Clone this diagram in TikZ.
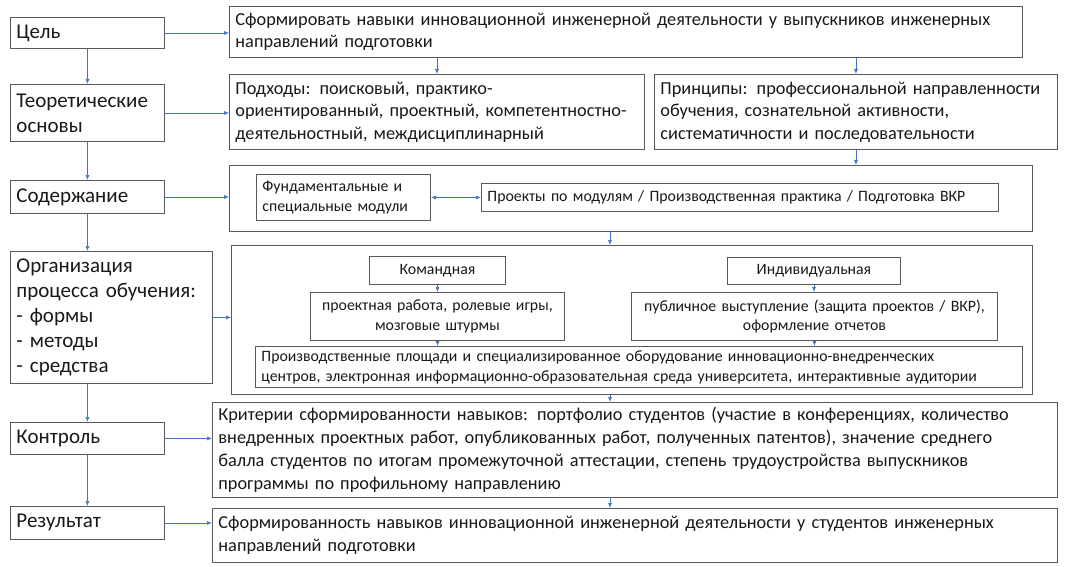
\documentclass[tikz,border=0pt]{standalone}
\usepackage{fontspec}
\setmainfont{Carlito}
\usetikzlibrary{arrows.meta}
\definecolor{boxline}{HTML}{595959}
\definecolor{arr}{HTML}{4472C4}
\tikzset{
  box/.style={draw=boxline, line width=0.9pt, anchor=north west, inner xsep=6pt, inner ysep=1pt, text=black!90},
  lbox/.style={box, align=left, font=\fontsize{21}{25}\selectfont},
  mbox/.style={box, align=left, font=\fontsize{18.3}{22.5}\selectfont},
  sbox/.style={box, inner xsep=2pt, align=center, font=\fontsize{15.8}{19.5}\selectfont},
  sboxl/.style={box, inner xsep=6pt, align=left, font=\fontsize{15.8}{20}\selectfont},
  conn/.style={draw=arr, line width=0.7pt, -{Latex[length=5pt,width=4pt]}},
  dconn/.style={draw=arr, line width=0.7pt, {Latex[length=5pt,width=4pt]}-{Latex[length=5pt,width=4pt]}}
}
\begin{document}
\begin{tikzpicture}[x=1pt,y=-1pt]
\useasboundingbox[fill=white] (0,0) rectangle (1071,567);
% left column
\node[lbox, minimum width=154pt, minimum height=31pt, text width=142pt] (cel) at (10,17) {Цель};
\node[lbox, minimum width=154pt, minimum height=57pt, text width=142pt] (teor) at (10,84) {Теоретические\\основы};
\node[lbox, minimum width=154pt, minimum height=33pt, text width=142pt] (sod) at (10,180) {Содержание};
\node[lbox, minimum width=202pt, minimum height=132pt, text width=190pt] (org) at (10,251) {Организация\\процесса обучения:\\- формы\\- методы\\- средства};
\node[lbox, minimum width=154pt, minimum height=32pt, text width=142pt] (kon) at (10,422) {Контроль};
\node[lbox, minimum width=154pt, minimum height=33pt, text width=142pt] (res) at (10,506) {Результат};
% right column
\node[mbox, minimum width=793pt, minimum height=51pt, text width=781pt] (goal) at (229,6) {Сформировать навыки инновационной инженерной деятельности у выпускников инженерных\\направлений подготовки};
\node[mbox, minimum width=415pt, minimum height=75pt, text width=403pt] (podh) at (229,74) {Подходы: поисковый, практико-\\ориентированный, проектный, компетентностно-\\деятельностный, междисциплинарный};
\node[mbox, minimum width=403pt, minimum height=75pt, text width=391pt] (princ) at (654,74) {Принципы: профессиональной направленности\\обучения, сознательной активности,\\систематичности и последовательности};
\node[box, minimum width=803pt, minimum height=66pt] (cont) at (229,165) {};
\node[sboxl, minimum width=174pt, minimum height=46pt, text width=162pt] (fund) at (256,174) {Фундаментальные и\\специальные модули};
\node[sboxl, minimum width=517pt, minimum height=28pt, text width=505pt] (proj) at (481,183) {Проекты по модулям / Производственная практика / Подготовка ВКР};
\node[box, minimum width=801pt, minimum height=149pt] (orgb) at (231,245) {};
\node[sbox, minimum width=136pt, minimum height=28pt, text width=132pt] (kom) at (369,256) {Командная};
\node[sbox, minimum width=173pt, minimum height=27pt, text width=169pt] (ind) at (727,257) {Индивидуальная};
\node[sbox, minimum width=254pt, minimum height=48pt, text width=250pt] (proe) at (310,292) {проектная работа, ролевые игры,\\мозговые штурмы};
\node[sbox, minimum width=366pt, minimum height=48pt, text width=362pt] (publ) at (631,292) {публичное выступление (защита проектов / ВКР),\\оформление отчетов};
\node[sboxl, minimum width=767pt, minimum height=41pt, text width=755pt] (proizv) at (255,346) {Производственные площади и специализированное оборудование инновационно-внедренческих\\центров, электронная информационно-образовательная среда университета, интерактивные аудитории};
\node[mbox, font=\fontsize{18.3}{23}\selectfont, minimum width=845pt, minimum height=95pt, text width=833pt] (krit) at (212,402) {Критерии сформированности навыков: портфолио студентов (участие в конференциях, количество\\внедренных проектных работ, опубликованных работ, полученных патентов), значение среднего\\балла студентов по итогам промежуточной аттестации, степень трудоустройства выпускников\\программы по профильному направлению};
\node[mbox, minimum width=845pt, minimum height=54pt, text width=833pt] (sform) at (212,508) {Сформированность навыков инновационной инженерной деятельности у студентов инженерных\\направлений подготовки};
\coordinate (mx) at (610,0);
% left vertical connectors
\draw[conn] (cel.south) -- (teor.north);
\draw[conn] (teor.south) -- (sod.north);
\draw[conn] (sod.south) -- (sod.south |- org.north);
\draw[conn] (org.south -| kon.south) -- (kon.north);
\draw[conn] (kon.south) -- (res.north);
% horizontal connectors
\draw[conn] (cel.east) -- (cel.east -| goal.west);
\draw[conn] (teor.east) -- (teor.east -| podh.west);
\draw[conn] (sod.east) -- (sod.east -| cont.west);
\draw[conn] (org.east) -- (org.east -| orgb.west);
\draw[conn] (kon.east) -- (kon.east -| krit.west);
\draw[conn] (res.east) -- (res.east -| sform.west);
% right vertical connectors
\draw[conn] (podh.north |- goal.south) -- (podh.north);
\draw[conn] (princ.north |- goal.south) -- (princ.north);
\draw[conn] (princ.south) -- (princ.south |- cont.north);
\draw[conn] (mx |- cont.south) -- (mx |- orgb.north);
\draw[conn] (mx |- orgb.south) -- (mx |- krit.north);
\draw[conn] (mx |- krit.south) -- (mx |- sform.north);
\draw[dconn] (fund.east) -- (fund.east -| proj.west);
\draw[conn] (kom.south) -- (kom.south |- proe.north);
\draw[conn] (proe.south) -- (proe.south |- proizv.north);
\draw[conn] (ind.south) -- (ind.south |- publ.north);
\draw[conn] (publ.south) -- (publ.south |- proizv.north);
\end{tikzpicture}
\end{document}
